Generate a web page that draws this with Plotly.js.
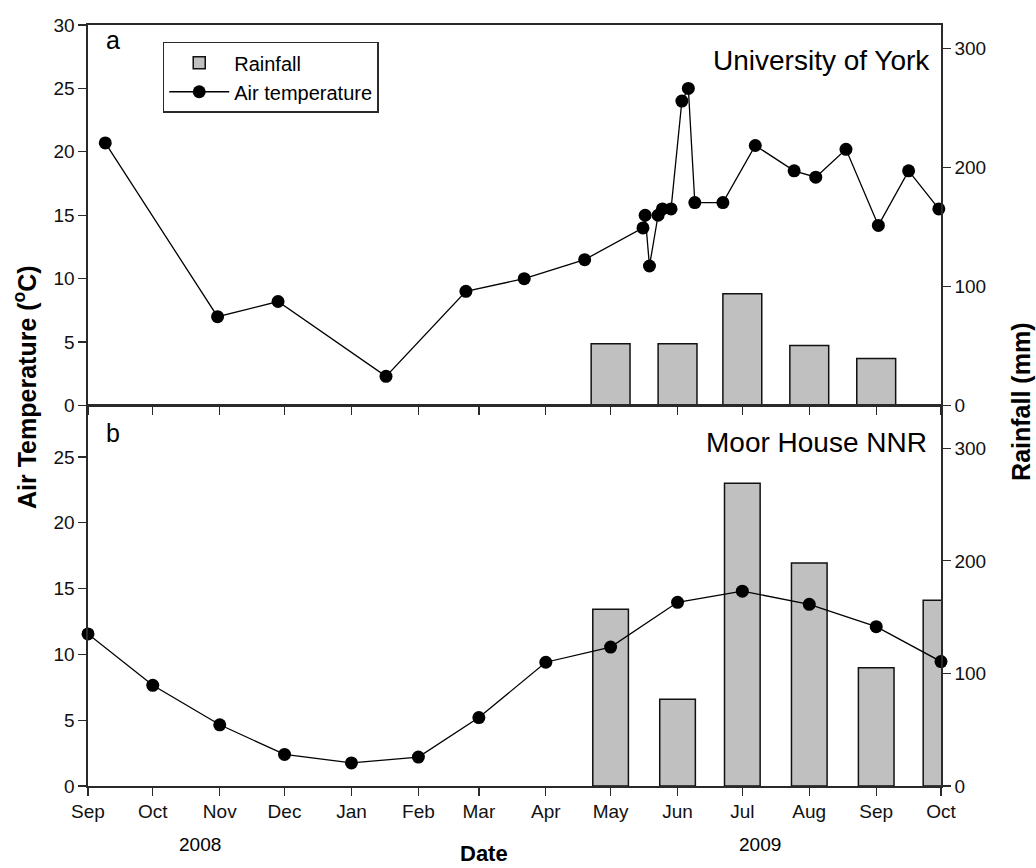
<!DOCTYPE html>
<html>
<head>
<meta charset="utf-8">
<script src="https://cdn.plot.ly/plotly-3.0.1.min.js"></script>
<style>
  html, body { margin: 0; padding: 0; background: #ffffff; }
  #chart { width: 1036px; height: 868px; }
</style>
</head>
<body>
<div id="chart"></div>
<script>
// ---- Data ----
// Panel a: University of York
const yorkTempDates = [
  '2008-09-09', '2008-10-31', '2008-11-28', '2009-01-17', '2009-02-23',
  '2009-03-22', '2009-04-19', '2009-05-16', '2009-05-17', '2009-05-19',
  '2009-05-23', '2009-05-25', '2009-05-29', '2009-06-03', '2009-06-06',
  '2009-06-09', '2009-06-22', '2009-07-07', '2009-07-25', '2009-08-04',
  '2009-08-18', '2009-09-02', '2009-09-16', '2009-09-30'
];
const yorkTemp = [
  20.7, 7.0, 8.2, 2.3, 9.0,
  10.0, 11.5, 14.0, 15.0, 11.0,
  15.0, 15.5, 15.5, 24.0, 25.0,
  16.0, 16.0, 20.5, 18.5, 18.0,
  20.2, 14.2, 18.5, 15.5
];
const yorkRainMonths = ['2009-05-01', '2009-06-01', '2009-07-01', '2009-08-01', '2009-09-01'];
const yorkRain = [52, 52, 94, 50.5, 39.5];

// Panel b: Moor House NNR
const moorTempDates = [
  '2008-09-01', '2008-10-01', '2008-11-01', '2008-12-01', '2009-01-01',
  '2009-02-01', '2009-03-01', '2009-04-01', '2009-05-01', '2009-06-01',
  '2009-07-01', '2009-08-01', '2009-09-01', '2009-10-01'
];
const moorTemp = [11.55, 7.65, 4.65, 2.4, 1.75, 2.2, 5.2, 9.4, 10.55, 13.95, 14.8, 13.8, 12.1, 9.45];
const moorRainMonths = ['2009-05-01', '2009-06-01', '2009-07-01', '2009-08-01', '2009-09-01', '2009-10-01'];
const moorRain = [157, 77, 269, 198, 105, 165];

// Labels
const legendNames = ['Rainfall', 'Air temperature'];
const siteNames = ['University of York', 'Moor House NNR'];
const panelLetters = ['a', 'b'];
const yearLabels = ['2008', '2009'];

// ---- Styling ----
const FONT = '"Liberation Sans", Arial, Helvetica, sans-serif';
const AXC = '#2a2a2a';
const DAY = 24 * 3600 * 1000;
const xRange = ['2008-09-01', '2009-10-01'];

const traces = [
  {
    type: 'bar', name: legendNames[0], x: yorkRainMonths, y: yorkRain,
    xaxis: 'x', yaxis: 'y', width: 18 * DAY,
    marker: { color: '#c0c0c0', line: { color: '#111', width: 1.5 } },
    showlegend: true
  },
  {
    type: 'scatter', mode: 'lines+markers', name: legendNames[1],
    x: yorkTempDates, y: yorkTemp, xaxis: 'x', yaxis: 'y2',
    line: { color: '#000', width: 1.3 },
    marker: { color: '#000', size: 13 },
    cliponaxis: false, showlegend: true
  },
  {
    type: 'bar', name: legendNames[0], x: moorRainMonths, y: moorRain,
    xaxis: 'x2', yaxis: 'y3', width: 16.5 * DAY,
    marker: { color: '#c0c0c0', line: { color: '#111', width: 1.5 } },
    showlegend: false
  },
  {
    type: 'scatter', mode: 'lines+markers', name: legendNames[1],
    x: moorTempDates, y: moorTemp, xaxis: 'x2', yaxis: 'y4',
    line: { color: '#000', width: 1.3 },
    marker: { color: '#000', size: 13 },
    cliponaxis: false, showlegend: false
  }
];

const tickFont = { family: FONT, size: 19, color: '#111' };

function xAxis(anchor, showLabels) {
  return {
    type: 'date', range: xRange, anchor: anchor, domain: [0, 1],
    tick0: '2008-09-01', dtick: 'M1', tickformat: '%b',
    showticklabels: showLabels, ticks: 'outside', ticklen: 8, tickwidth: 1.3, tickcolor: AXC,
    showline: true, linecolor: AXC, linewidth: 1.6, mirror: true,
    showgrid: false, zeroline: false, tickfont: tickFont
  };
}
function rainAxis(domain, range) {
  return {
    domain: domain, range: range, side: 'right', anchor: 'x',
    tickvals: [0, 100, 200, 300], ticks: 'outside', ticklen: 8, tickwidth: 1.3, tickcolor: AXC,
    showline: true, linecolor: AXC, linewidth: 1.6,
    showgrid: false, zeroline: false, tickfont: tickFont
  };
}
function tempAxis(over, range) {
  return {
    overlaying: over, range: range, side: 'left',
    tickvals: [0, 5, 10, 15, 20, 25, 30], ticks: 'outside', ticklen: 8, tickwidth: 1.3, tickcolor: AXC,
    showline: true, linecolor: AXC, linewidth: 1.6,
    showgrid: false, zeroline: false, tickfont: tickFont
  };
}

const yA = rainAxis([0.5, 1], [0, 320]);
const yB = rainAxis([0, 0.5], [0, 338]);
yB.anchor = 'x2';
const y2 = tempAxis('y', [0, 30]);
y2.anchor = 'x';
const y4 = tempAxis('y3', [0, 28.9]);
y4.anchor = 'x2';

function ann(text, x, y, size, opts) {
  return Object.assign({
    text: text, x: x, y: y, xref: 'paper', yref: 'paper',
    showarrow: false, xanchor: 'center', yanchor: 'middle',
    font: { family: FONT, size: size, color: '#000' }
  }, opts || {});
}

const layout = {
  width: 1036, height: 868,
  margin: { l: 88, r: 95, t: 25, b: 82, pad: 0 },
  paper_bgcolor: '#ffffff', plot_bgcolor: '#ffffff',
  font: { family: FONT, color: '#000' },
  barmode: 'overlay',
  xaxis: xAxis('y', false),
  xaxis2: xAxis('y3', true),
  yaxis: yA,
  yaxis2: y2,
  yaxis3: yB,
  yaxis4: y4,
  showlegend: true,
  legend: {
    x: 0.0876, y: 0.978, xanchor: 'left', yanchor: 'top',
    bgcolor: '#ffffff', bordercolor: AXC, borderwidth: 1.5,
    font: { family: FONT, size: 20, color: '#000' },
    itemwidth: 60, tracegroupgap: 0, traceorder: 'normal'
  },
  annotations: [
    ann('<b>Air Temperature (<sup>o</sup>C)</b>', -0.073, 0.524, 25, { textangle: -90 }),
    ann('<b>Rainfall (mm)</b>', 1.094, 0.505, 25, { textangle: -90 }),
    ann('<b>Date</b>', 0.464, -0.0882, 22),
    ann(yearLabels[0], 0.131, -0.0775, 19),
    ann(yearLabels[1], 0.788, -0.0775, 19),
    ann(panelLetters[0], 0.0293, 0.980, 25),
    ann(panelLetters[1], 0.0293, 0.464, 25),
    ann(siteNames[0], 0.9894, 0.954, 28, { xanchor: 'right' }),
    ann(siteNames[1], 0.986, 0.452, 28, { xanchor: 'right' })
  ]
};

Plotly.newPlot('chart', traces, layout, { displayModeBar: false, staticPlot: true });
</script>
</body>
</html>
